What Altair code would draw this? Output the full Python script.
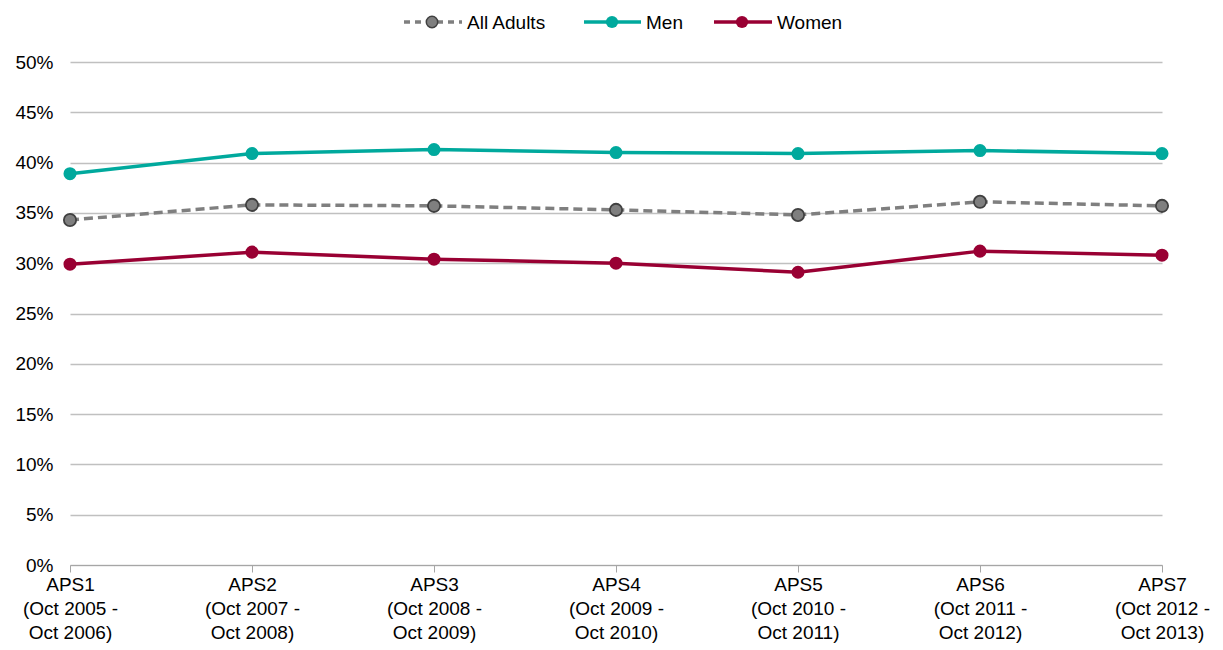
import altair as alt
import pandas as pd

# Survey periods (label lines separated by "|")
periods = [
    "APS1|(Oct 2005 -|Oct 2006)",
    "APS2|(Oct 2007 -|Oct 2008)",
    "APS3|(Oct 2008 -|Oct 2009)",
    "APS4|(Oct 2009 -|Oct 2010)",
    "APS5|(Oct 2010 -|Oct 2011)",
    "APS6|(Oct 2011 -|Oct 2012)",
    "APS7|(Oct 2012 -|Oct 2013)",
]

# Participation rate (%) by group
all_adults = [34.3, 35.8, 35.7, 35.3, 34.8, 36.1, 35.7]
men = [38.9, 40.9, 41.3, 41.0, 40.9, 41.2, 40.9]
women = [29.9, 31.1, 30.4, 30.0, 29.1, 31.2, 30.8]

y_ticks = list(range(0, 51, 5))

FONT = "Liberation Sans"
FS = 19

series = [
    ("All Adults", all_adults, "#7F7F7F", [9, 5], "#404040"),
    ("Men", men, "#00A99D", None, None),
    ("Women", women, "#990033", None, None),
]

x_enc = alt.X(
    "period:N",
    sort=periods,
    scale=alt.Scale(type="point", padding=0, domain=periods),
    axis=alt.Axis(
        title=None,
        labelExpr="split(datum.label, '|')",
        labelAngle=0,
        labelFont=FONT,
        labelFontSize=FS,
        labelColor="#000000",
        labelLineHeight=24,
        labelPadding=3,
        domainColor="#A6A6A6",
        domainWidth=1,
        tickColor="#A6A6A6",
        tickSize=7,
        grid=False,
    ),
)
y_enc = alt.Y(
    "value:Q",
    scale=alt.Scale(domain=[0, 50], nice=False, zero=True),
    axis=alt.Axis(
        title=None,
        values=y_ticks,
        labelExpr="datum.value + '%'",
        labelFont=FONT,
        labelFontSize=FS,
        labelColor="#000000",
        labelPadding=17,
        domain=False,
        ticks=False,
        grid=True,
        gridColor="#C0C0C0",
        gridWidth=1.5,
    ),
)

layers = []
for name, vals, color, dash, edge in series:
    df = pd.DataFrame({"period": periods, "value": vals, "series": name})
    line_kwargs = dict(color=color, strokeWidth=3.5)
    if dash:
        line_kwargs["strokeDash"] = dash
    line = alt.Chart(df).mark_line(**line_kwargs).encode(x=x_enc, y=y_enc)
    pt_kwargs = dict(filled=True, fill=color, size=170, opacity=1)
    if edge:
        pt_kwargs.update(stroke=edge, strokeWidth=1.8, size=150)
    pts = alt.Chart(df).mark_point(**pt_kwargs).encode(x=x_enc, y=y_enc)
    layers += [line, pts]

# Legend across the top
legend_src = pd.DataFrame({"k": [0]})
legend_items = [
    ("All Adults", 334, 392, 362, 397),
    ("Men", 514, 571, 542, 576),
    ("Women", 644, 702, 672, 707),
]
for (name, _, color, dash, edge), (_, x0, x1, xc, xt) in zip(series, legend_items):
    rk = dict(color=color, strokeWidth=3.5)
    if dash:
        rk["strokeDash"] = [6, 5]
    rule = alt.Chart(legend_src).mark_rule(**rk).encode(
        x=alt.value(x0), x2=alt.value(x1), y=alt.value(-40), y2=alt.value(-40)
    )
    pk = dict(filled=True, fill=color, size=150, opacity=1)
    if edge:
        pk.update(stroke=edge, strokeWidth=1.5, size=130)
    dot = alt.Chart(legend_src).mark_point(**pk).encode(
        x=alt.value(xc), y=alt.value(-40)
    )
    txt = alt.Chart(legend_src).mark_text(
        align="left", baseline="middle", font=FONT, fontSize=FS, color="#000000"
    ).encode(x=alt.value(xt), y=alt.value(-39), text=alt.value(name))
    layers += [rule, dot, txt]

chart = (
    alt.layer(*layers)
    .properties(
        width=1092,
        height=503,
        autosize=alt.AutoSizeParams(type="none"),
        padding={"left": 70, "top": 62, "right": 61, "bottom": 85},
    )
    .configure(background="#FFFFFF")
    .configure_view(strokeWidth=0, stroke="transparent")
)

chart.save("out.html", embed_options={"renderer": "svg", "actions": False})
